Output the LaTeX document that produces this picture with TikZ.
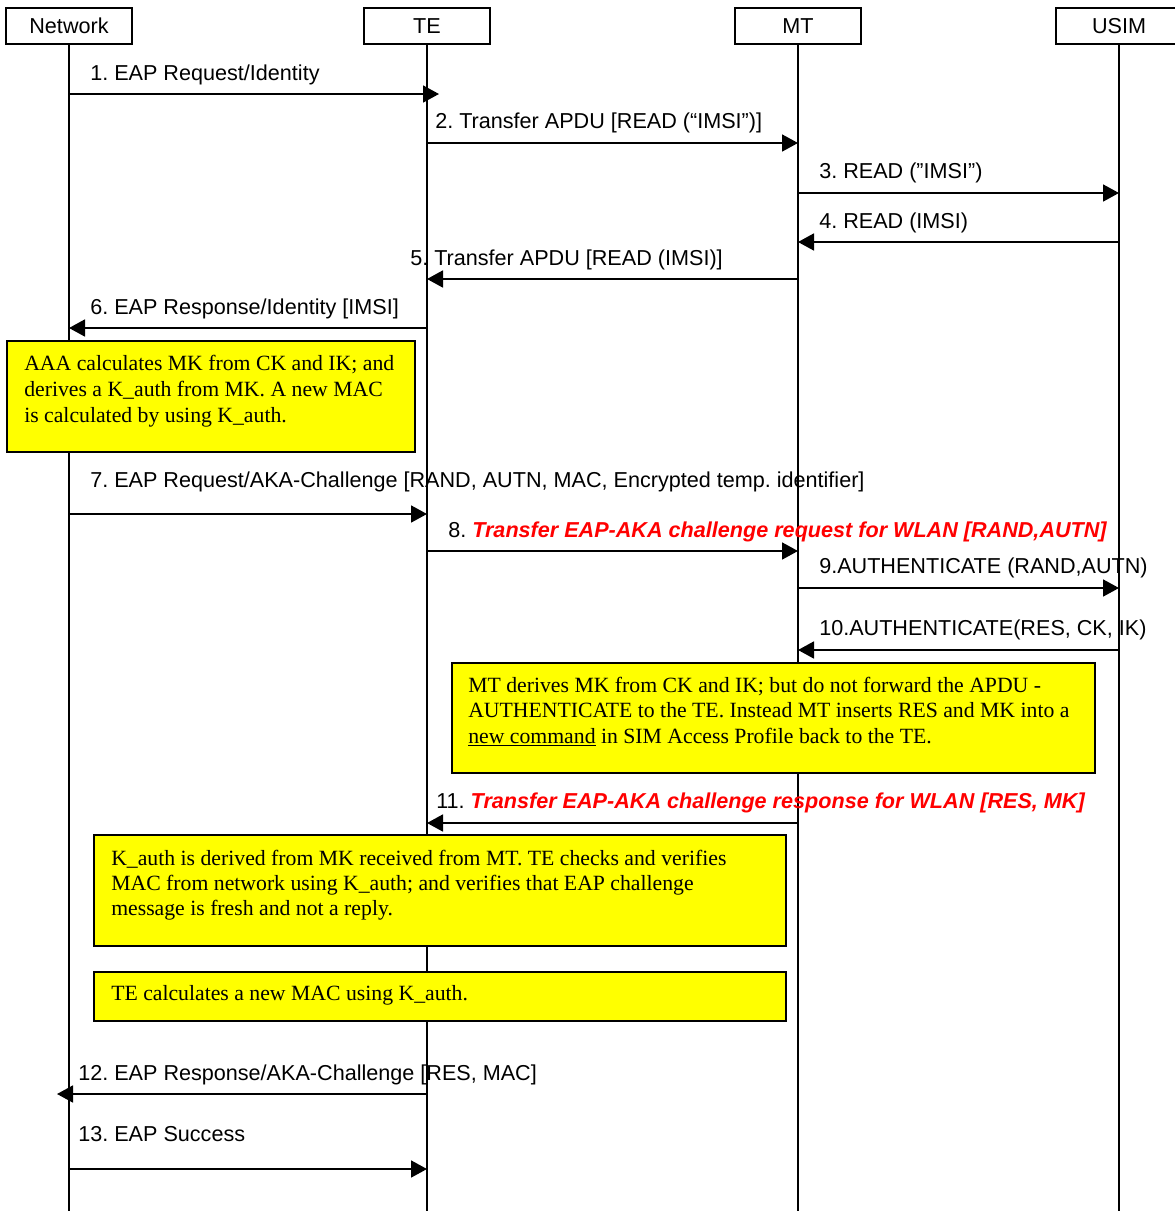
\documentclass[tikz,border=0pt]{standalone}
\usepackage{fontspec}
\setmainfont{Liberation Serif}
\setsansfont{Liberation Sans}
\usetikzlibrary{arrows.meta,calc}
\definecolor{notefill}{RGB}{255,255,0}
\definecolor{hotred}{RGB}{255,0,0}
\frenchspacing
\begin{document}
\begin{tikzpicture}[x=0.75pt,y=-0.75pt,
  hdr/.style={draw, line width=1.1pt, minimum width=94.5pt, minimum height=27pt,
    inner sep=0pt, font=\sffamily\fontsize{16.2}{19.5}\selectfont},
  life/.style={line width=1.1pt},
  msg/.style={line width=1.3pt, -{Triangle[length=12pt,width=12.75pt]}},
  lbl/.style={anchor=base west, inner sep=0pt, font=\sffamily\fontsize{16.2}{19.5}\selectfont},
  notebox/.style={draw, line width=1.1pt, fill=notefill},
  notetxt/.style={anchor=base west, inner sep=0pt, font=\rmfamily\fontsize{16.3}{19.5}\selectfont},
]
\newcommand{\redmsg}[1]{{\color{hotred}\bfseries\itshape #1}}
\path[use as bounding box] (0,0) rectangle (1175,1211);
\clip (0,0) rectangle (1175,1211);

% participants
\node[hdr] (net)  at (69,26)   {Network};
\node[hdr] (te)   at (427,26)  {TE};
\node[hdr] (mt)   at (798,26)  {MT};
\node[hdr] (usim) at (1119,26) {USIM};

% lifelines
\coordinate (net-end)  at (69,1215);
\coordinate (te-end)   at (427,1215);
\coordinate (mt-end)   at (798,1215);
\coordinate (usim-end) at (1119,1215);
\draw[life] (net) -- (net-end);
\draw[life] (te) -- (te-end);
\draw[life] (mt) -- (mt-end);
\draw[life] (usim) -- (usim-end);

% 1
\draw[msg] (net |- 0,94) -- ($(te |- 0,94)+(12,0)$);
\node[lbl] (m1) at (90,80) {1. EAP Request/Identity};
% 2
\draw[msg] (te |- 0,143) -- (mt |- 0,143);
\node[lbl] (m2) at (435,128) {2. Transfer APDU [READ (“IMSI”)]};
% 3
\draw[msg] (mt |- 0,193) -- (usim |- 0,193);
\node[lbl] (m3) at (819,178) {3. READ (”IMSI”)};
% 4
\draw[msg] (usim |- 0,242) -- (mt |- 0,242);
\node[lbl] (m4) at (819,228) {4. READ (IMSI)};
% 5
\draw[msg] (mt |- 0,279) -- (te |- 0,279);
\node[lbl] (m5) at (410,265) {5. Transfer APDU [READ (IMSI)]};
% 6
\draw[msg] (te |- 0,328) -- (net |- 0,328);
\node[lbl] (m6) at (90,314) {6. EAP Response/Identity [IMSI]};

% AAA note
\draw[notebox] (7,341) rectangle (415,452);
\node[notetxt] (aaa1) at (24,370) {AAA calculates MK from CK and IK; and};
\node[notetxt] (aaa2) at (24,396) {derives a K\_auth from MK. A new MAC};
\node[notetxt] (aaa3) at (24,422) {is calculated by using K\_auth.};

% 7
\draw[msg] (net |- 0,514) -- (te |- 0,514);
\node[lbl] (m7) at (90,487) {7. EAP Request/AKA-Challenge [RAND, AUTN, MAC, Encrypted temp. identifier]};
% 8
\draw[msg] (te |- 0,551) -- (mt |- 0,551);
\node[lbl] (m8) at (448,537) {8. \redmsg{Transfer EAP-AKA challenge request for WLAN [RAND,AUTN]}};
% 9
\draw[msg] (mt |- 0,588) -- (usim |- 0,588);
\node[lbl] (m9) at (819,573) {9.AUTHENTICATE (RAND,AUTN)};
% 10
\draw[msg] (usim |- 0,650) -- (mt |- 0,650);
\node[lbl] (m10) at (819,635) {10.AUTHENTICATE(RES, CK, IK)};

% MT note
\draw[notebox] (452,663) rectangle (1095,773);
\node[notetxt] (mtn1) at (468,692) {MT derives MK from CK and IK; but do not forward the APDU -};
\node[notetxt] (mtn2) at (468,717) {AUTHENTICATE to the TE. Instead MT inserts RES and MK into a};
\node[notetxt] (mtn3) at (468,743) {\underline{new command} in SIM Access Profile back to the TE.};

% 11
\draw[msg] (mt |- 0,823) -- (te |- 0,823);
\node[lbl] (m11) at (436,808) {11. \redmsg{Transfer EAP-AKA challenge response for WLAN [RES, MK]}};

% TE notes
\draw[notebox] (94,835) rectangle (786,946);
\node[notetxt] (ten1) at (111,865) {K\_auth is derived from MK received from MT. TE checks and verifies};
\node[notetxt] (ten2) at (111,890) {MAC from network using K\_auth; and verifies that EAP challenge};
\node[notetxt] (ten3) at (111,915) {message is fresh and not a reply.};
\draw[notebox] (94,972) rectangle (786,1021);
\node[notetxt] (ten4) at (111,1000) {TE calculates a new MAC using K\_auth.};

% 12
\draw[msg] (te |- 0,1094) -- ($(net |- 0,1094)+(-12,0)$);
\node[lbl] (m12) at (78,1080) {12. EAP Response/AKA-Challenge [RES, MAC]};
% 13
\draw[msg] (net |- 0,1169) -- (te |- 0,1169);
\node[lbl] (m13) at (78,1141) {13. EAP Success};
\end{tikzpicture}
\end{document}
